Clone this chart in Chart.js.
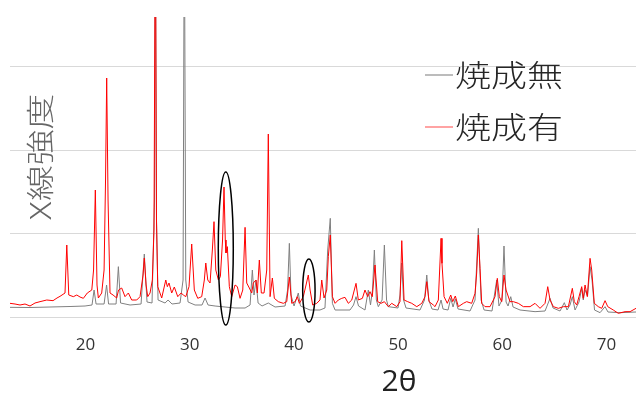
<!DOCTYPE html>
<html>
<head>
<meta charset="utf-8">
<script src="https://cdn.jsdelivr.net/npm/chart.js@4"></script>
<style>
    html, body { margin: 0; padding: 0; background: #fff; }
    #wrap { width: 636px; height: 396px; }
</style>
</head>
<body>
<div id="wrap"><canvas id="chart01"></canvas></div>
<script>
// 2θ [deg], X-ray intensity [a.u.]
const unfired = [
    [12.75,116],[14.67,114],[16.59,120],[18.51,126],[19.95,132],[20.62,144],[20.82,324],[21.01,156],
    [21.78,156],[22.02,384],[22.21,156],[22.93,156],[23.15,604],[23.36,168],[24.27,144],[25.33,156],
    [25.64,756],[25.90,180],[26.38,168],[26.62,1404],[26.70,5000],[26.81,1164],[26.96,204],[27.63,168],
    [27.92,204],[28.30,156],[29.07,168],[29.36,444],[29.48,5000],[29.62,444],[29.84,180],[30.51,144],
    [31.18,144],[31.47,228],[31.76,144],[32.43,132],[33.39,120],[34.35,108],[35.31,108],[35.79,144],
    [36.01,564],[36.17,264],[36.36,444],[36.56,168],[36.94,132],[37.54,168],[38.19,120],[39.15,132],
    [39.39,324],[39.56,884],[39.72,264],[40.01,132],[40.42,288],[40.63,132],[41.55,84],[42.50,84],
    [42.98,108],[43.24,804],[43.49,1184],[43.69,164],[43.95,84],[45.38,84],[45.72,144],[45.96,244],
    [46.20,132],[46.82,84],[47.14,324],[47.35,144],[47.54,324],[47.72,804],[47.91,204],[48.10,124],
    [48.46,204],[48.68,864],[48.89,204],[49.06,124],[49.99,108],[50.18,264],[50.35,648],[50.52,204],
    [50.76,108],[52.10,84],[52.53,204],[52.75,504],[52.94,204],[53.25,96],[53.83,84],[54.12,204],
    [54.31,96],[54.79,84],[55.05,224],[55.27,120],[55.49,216],[55.75,96],[56.90,72],[57.38,204],
    [57.70,1064],[57.96,204],[58.25,84],[59.01,72],[59.46,444],[59.68,132],[59.97,204],[60.16,852],
    [60.36,180],[60.55,132],[60.81,244],[61.03,120],[61.70,84],[63.14,64],[64.10,72],[64.58,224],
    [64.87,108],[65.54,72],[65.95,172],[66.21,84],[66.50,144],[66.72,244],[66.98,84],[67.36,180],
    [67.62,344],[67.77,204],[67.94,324],[68.18,252],[68.42,604],[68.61,444],[68.85,84],[69.38,52],
    [69.86,124],[70.14,60],[71.30,52],[72.83,60]
];

const fired = [
    [12.75,164],[13.23,156],[13.71,144],[14.19,156],[14.67,132],[15.15,168],[15.63,184],[16.28,204],
    [16.88,196],[17.26,228],[17.55,248],[18.03,288],[18.20,864],[18.39,264],[18.83,244],[19.16,264],
    [19.47,240],[19.79,224],[20.17,288],[20.60,324],[20.77,564],[20.94,1524],[21.10,384],[21.23,228],
    [21.55,288],[21.78,564],[21.92,1644],[22.03,2868],[22.16,1404],[22.35,288],[22.64,264],[22.99,228],
    [23.17,324],[23.47,348],[23.79,244],[24.11,288],[24.43,204],[24.91,204],[25.23,244],[25.52,504],
    [25.64,708],[25.81,384],[25.97,244],[26.19,288],[26.41,444],[26.57,1044],[26.70,5000],[26.81,1164],
    [26.93,364],[27.31,228],[27.70,444],[27.85,364],[28.01,408],[28.27,288],[28.52,360],[28.85,244],
    [29.17,288],[29.39,264],[29.62,244],[29.93,364],[30.19,876],[30.44,324],[30.77,224],[31.15,244],
    [31.40,444],[31.54,648],[31.73,444],[31.95,408],[32.17,804],[32.33,1144],[32.50,564],[32.75,444],
    [32.94,484],[33.15,924],[33.29,1560],[33.41,924],[33.48,768],[33.61,844],[33.80,364],[34.03,244],
    [34.35,384],[34.57,364],[34.83,224],[35.09,324],[35.31,1076],[35.47,408],[35.72,348],[35.95,288],
    [36.10,408],[36.36,444],[36.49,288],[36.68,684],[36.87,288],[37.13,288],[37.39,564],[37.54,2196],
    [37.71,244],[37.93,468],[38.12,224],[38.50,184],[38.98,164],[39.31,184],[39.56,480],[39.79,164],
    [40.11,184],[40.33,244],[40.52,164],[40.90,244],[41.16,384],[41.38,504],[41.55,324],[41.80,144],
    [42.19,164],[42.50,204],[42.67,444],[42.89,228],[43.15,324],[43.30,724],[43.49,984],[43.69,244],
    [43.95,164],[44.26,204],[44.59,224],[44.90,236],[45.22,164],[45.55,204],[45.96,404],[46.18,204],
    [46.57,224],[46.82,324],[47.08,244],[47.30,304],[47.52,244],[47.78,624],[48.04,184],[48.36,164],
    [48.68,184],[49.06,124],[49.39,164],[49.87,124],[50.18,184],[50.35,916],[50.57,204],[50.92,184],
    [51.31,164],[51.79,124],[52.27,164],[52.58,244],[52.75,424],[52.97,184],[53.38,144],[53.54,124],
    [53.86,204],[54.12,944],[54.21,644],[54.41,244],[54.72,164],[55.05,264],[55.24,184],[55.49,252],
    [55.78,124],[56.26,164],[56.58,184],[57.06,164],[57.38,284],[57.54,528],[57.70,984],[57.86,584],
    [58.02,164],[58.34,124],[58.82,124],[59.30,244],[59.52,464],[59.71,244],[59.94,184],[60.16,504],
    [60.36,324],[60.74,184],[61.06,184],[61.54,164],[62.02,124],[62.66,124],[63.14,164],[63.62,104],
    [64.10,164],[64.36,364],[64.58,204],[64.90,124],[65.38,104],[65.86,124],[66.34,124],[66.72,344],
    [66.91,184],[67.14,144],[67.36,244],[67.62,364],[67.77,224],[67.94,384],[68.16,244],[68.42,704],
    [68.58,564],[68.83,164],[69.21,124],[69.54,104],[69.86,196],[70.12,124],[70.65,84],[71.13,44],
    [71.78,64],[72.26,64],[72.83,104]
];

const xTicks = [20, 30, 40, 50, 60, 70];
const yGrid = [0, 1000, 2000, 3000];

// circled peaks: [2θ from, 2θ to, intensity from, intensity to]
const circled = [
    [32.74, 34.18, -96, 1740],
    [40.84, 42.03, -60, 696]
];

const series_unfired = {
    label: '焼成無',
    data: unfired.map(p => ({x: p[0], y: p[1]})),
    borderColor: '#808080',
    legendColor: '#a6a6a6',
    borderWidth: 1,
    order: 2
};

const series_fired = {
    label: '焼成有',
    data: fired.map(p => ({x: p[0], y: p[1]})),
    borderColor: '#ff0000',
    legendColor: '#ff8585',
    borderWidth: 1,
    order: 1
};

// text in the reference is wider than the installed CJK face, so stretch it a bit
function wideText(ctx, text, x, y, stretch) {
    ctx.save();
    ctx.translate(x, y);
    ctx.scale(stretch, 1);
    ctx.fillText(text, 0, 0);
    ctx.restore();
}

const overlay = {
    id: 'overlay',
    afterDatasetsDraw(chart) {
        const ctx = chart.ctx;
        const xs = chart.scales.x, ys = chart.scales.y;
        ctx.save();
        ctx.strokeStyle = '#000';
        ctx.lineWidth = 1.5;
        circled.forEach(c => {
            const x0 = xs.getPixelForValue(c[0]), x1 = xs.getPixelForValue(c[1]);
            const y0 = ys.getPixelForValue(c[2]), y1 = ys.getPixelForValue(c[3]);
            ctx.beginPath();
            ctx.ellipse((x0 + x1) / 2, (y0 + y1) / 2, Math.abs(x1 - x0) / 2, Math.abs(y1 - y0) / 2, 0, 0, 2 * Math.PI);
            ctx.stroke();
        });
        ctx.restore();
    },
    afterDraw(chart) {
        const ctx = chart.ctx;
        ctx.save();
        // y axis title sits inside the plot
        ctx.translate(40.5, 157);
        ctx.rotate(-Math.PI / 2);
        ctx.font = '300 28px "Noto Sans CJK JP Light", "Noto Sans CJK JP"';
        ctx.fillStyle = '#666666';
        ctx.textAlign = 'center';
        ctx.textBaseline = 'middle';
        wideText(ctx, 'X線強度', 0, 0, 1.28);
        ctx.restore();

        // x axis title, off-centre as in the reference
        ctx.save();
        ctx.font = '30px "Open Sans"';
        ctx.fillStyle = '#222';
        ctx.textAlign = 'center';
        ctx.textBaseline = 'middle';
        ctx.fillText('2θ', 399, 382);
        ctx.restore();

        // legend
        ctx.save();
        ctx.font = '300 30px "Noto Sans CJK JP Light", "Noto Sans CJK JP"';
        ctx.textBaseline = 'middle';
        ctx.textAlign = 'left';
        chart.data.datasets.forEach((ds, i) => {
            const y = 75 + i * 52;
            ctx.strokeStyle = ds.legendColor;
            ctx.lineWidth = 1.5;
            ctx.beginPath();
            ctx.moveTo(425, y);
            ctx.lineTo(453, y);
            ctx.stroke();
            ctx.fillStyle = '#262626';
            wideText(ctx, ds.label, 455, y, 1.2);
        });
        ctx.restore();
    }
};

new Chart(document.getElementById('chart01'), {
    type: 'line',
    data: {
        datasets: [series_unfired, series_fired]
    },
    options: {
        responsive: true,
        maintainAspectRatio: false,
        animation: false,
        devicePixelRatio: 1,
        layout: {
            // room below the tick labels for the axis title drawn by the overlay
            padding: {left: 10, top: 17, right: 0, bottom: 22.6}
        },
        elements: {
            point: {radius: 0},
            line: {tension: 0}
        },
        plugins: {
            legend: {display: false},
            tooltip: {enabled: false}
        },
        scales: {
            x: {
                type: 'linear',
                min: 12.75,
                max: 72.83,
                afterBuildTicks: scale => { scale.ticks = xTicks.map(v => ({value: v})); },
                grid: {display: false, drawTicks: false},
                border: {display: false},
                ticks: {
                    autoSkip: false,
                    maxRotation: 0,
                    padding: 18,
                    color: '#333',
                    font: {family: '"Open Sans"', size: 17}
                }
            },
            y: {
                min: 0,
                max: 3600,
                afterBuildTicks: scale => { scale.ticks = yGrid.map(v => ({value: v})); },
                grid: {color: '#d9d9d9', drawTicks: false},
                border: {display: false},
                ticks: {display: false}
            }
        }
    },
    plugins: [overlay]
});
</script>
</body>
</html>
